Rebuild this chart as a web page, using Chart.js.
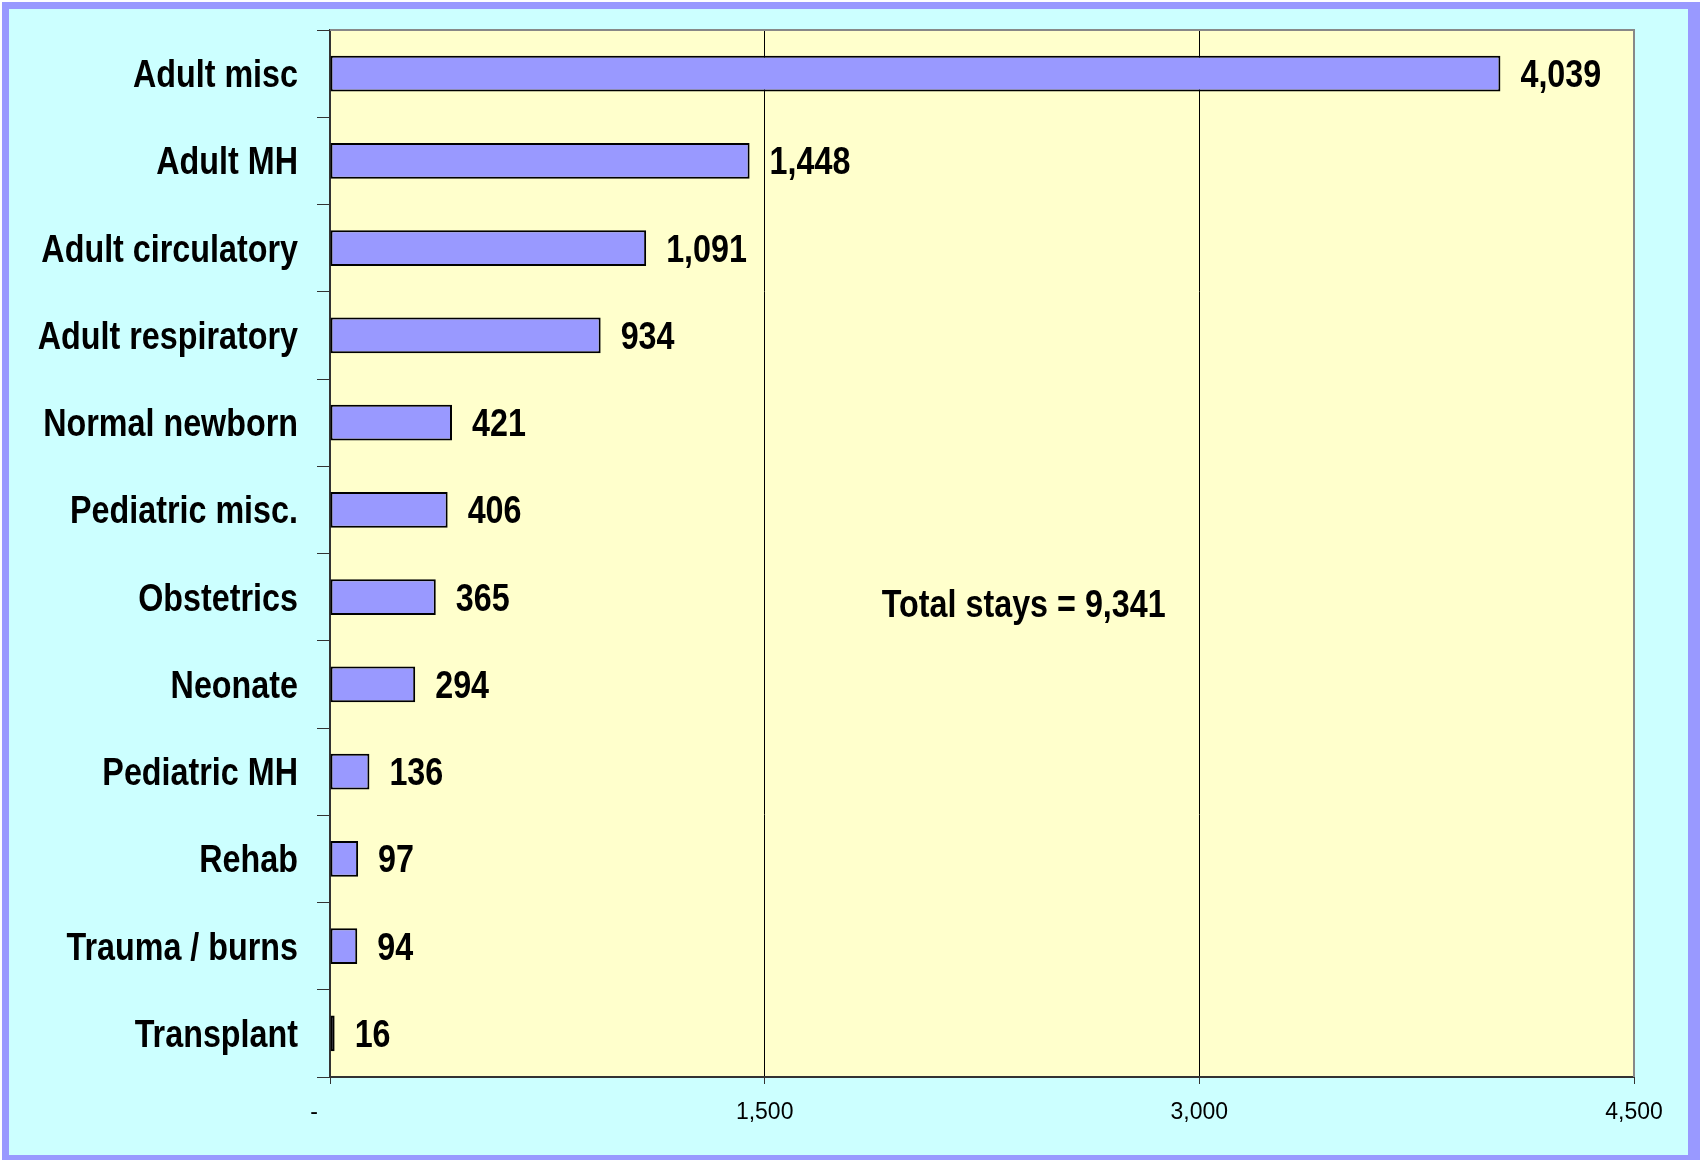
<!DOCTYPE html>
<html>
<head>
<meta charset="utf-8">
<script src="https://cdn.jsdelivr.net/npm/chart.js@4.4.0/dist/chart.umd.min.js"></script>
<style>
  html, body { margin: 0; padding: 0; background: #ffffff; }
  canvas { display: block; }
</style>
</head>
<body>
<canvas id="c" width="1700" height="1160"></canvas>
<script>
const categories = ['Adult misc', 'Adult MH', 'Adult circulatory', 'Adult respiratory', 'Normal newborn', 'Pediatric misc.', 'Obstetrics', 'Neonate', 'Pediatric MH', 'Rehab', 'Trauma / burns', 'Transplant'];
const stays = [4039, 1448, 1091, 934, 421, 406, 365, 294, 136, 97, 94, 16];
const xTickValues = [0, 1500, 3000, 4500];
const xTickLabels = ['-', '1,500', '3,000', '4,500'];
const totalNote = 'Total stays = 9,341';

const BIG = "'Liberation Sans', Arial, sans-serif";
const REG = "'Liberation Sans', Arial, sans-serif";
const NARROW_SCALE = 0.85;

const fmt = v => v.toLocaleString('en-US');

function narrowText(ctx, text, x, y) {
  ctx.save();
  ctx.translate(x, y);
  ctx.scale(NARROW_SCALE, 1);
  ctx.fillText(text, 0, 0);
  ctx.restore();
}

const framePlugin = {
  id: 'frame',
  beforeDraw(chart) {
    const ctx = chart.ctx;
    const a = chart.chartArea;
    const ys = chart.scales.y;
    if (!ys._narrowPatched) {
      const orig = ys.drawLabels;
      ys.drawLabels = function (area) {
        const c = this.ctx;
        const xr = this.right - 13 - 19;
        const savedLeft = this.left;
        this.left = -1000;
        c.save();
        c.translate(xr, 3);
        c.scale(NARROW_SCALE, 1);
        c.translate(-xr, 0);
        orig.call(this, area);
        c.restore();
        this.left = savedLeft;
      };
      ys._narrowPatched = true;
    }
    ctx.save();
    ctx.fillStyle = '#ffffff';
    ctx.fillRect(0, 0, 1700, 1160);
    ctx.fillStyle = '#9999ff';
    ctx.fillRect(2, 2, 1698, 1158);
    ctx.fillStyle = '#ccffff';
    ctx.fillRect(9, 9, 1688 - 9, 1155 - 9);
    ctx.fillStyle = '#ffffcc';
    ctx.fillRect(a.left, a.top, a.right - a.left, a.bottom - a.top);
    ctx.restore();
  },
  afterDraw(chart) {
    const ctx = chart.ctx;
    const a = chart.chartArea;
    const xs = chart.scales.x, ys = chart.scales.y;
    ctx.save();
    ctx.strokeStyle = '#888888';
    ctx.lineWidth = 2;
    ctx.beginPath();
    ctx.moveTo(a.left, a.top);
    ctx.lineTo(a.right, a.top);
    ctx.lineTo(a.right, a.bottom);
    ctx.stroke();
    ctx.fillStyle = '#000000';
    ctx.font = 'bold 38px ' + BIG;
    ctx.textAlign = 'left';
    ctx.textBaseline = 'middle';
    const meta = chart.getDatasetMeta(0);
    meta.data.forEach((bar, i) => {
      narrowText(ctx, fmt(stays[i]), bar.x + 20, bar.y + 3);
    });
    ctx.textAlign = 'center';
    narrowText(ctx, totalNote, xs.getPixelForValue(2394), ys.getPixelForValue(6) + 9);
    ctx.restore();
  }
};

new Chart(document.getElementById('c'), {
  type: 'bar',
  data: {
    labels: categories,
    datasets: [{
      data: stays,
      backgroundColor: '#9999ff',
      borderColor: '#000000',
      borderWidth: 2,
      borderSkipped: false,
      categoryPercentage: 1.0,
      barPercentage: 0.41
    }]
  },
  options: {
    indexAxis: 'y',
    responsive: false,
    animation: false,
    devicePixelRatio: 1,
    layout: { padding: { top: 30, right: 66, left: 0, bottom: 0 } },
    plugins: { legend: { display: false }, tooltip: { enabled: false } },
    scales: {
      x: {
        type: 'linear',
        min: 0,
        max: 4500,
        afterFit(s) { s.height = 83; s.paddingLeft = 0; s.paddingRight = 0; },
        afterBuildTicks(s) { s.ticks = xTickValues.map(v => ({ value: v })); },
        ticks: {
          font: { family: REG, size: 23 },
          color: '#000000',
          padding: 15,
          maxRotation: 0,
          callback: (v) => {
            const i = xTickValues.indexOf(v);
            const t = i >= 0 ? xTickLabels[i] : '';
            return v === 0 ? t + '     ' : t;
          }
        },
        grid: {
          drawOnChartArea: true,
          drawTicks: true,
          tickLength: 7,
          tickColor: '#333333',
          color: (c) => (c.tick && c.tick.value === 4500) ? '#888888' : '#000000',
          lineWidth: 1
        },
        border: { display: true, color: '#333333', width: 2 }
      },
      y: {
        type: 'category',
        afterFit(s) { s.width = 330; s.paddingTop = 0; s.paddingBottom = 0; },
        ticks: {
          font: { family: BIG, size: 38, weight: 'bold' },
          color: '#000000',
          padding: 19
        },
        grid: {
          drawOnChartArea: false,
          drawTicks: true,
          tickLength: 13,
          tickColor: '#333333',
          color: '#333333',
          offset: true
        },
        border: { display: true, color: '#333333', width: 2 }
      }
    }
  },
  plugins: [framePlugin]
});
</script>
</body>
</html>
